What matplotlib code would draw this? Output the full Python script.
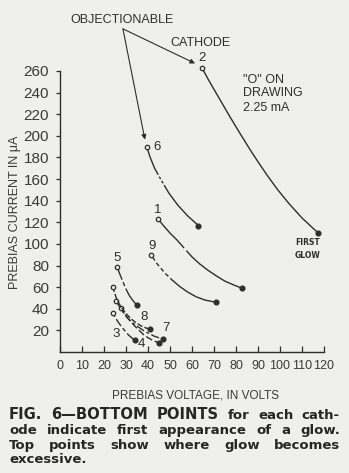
import matplotlib
matplotlib.use("Agg")
import matplotlib.pyplot as plt

# glow curves per cathode: (voltage, current) from the excessive point down to first glow
cathodes = ["1", "2", "3", "4", "5", "6", "7", "8", "9"]
volts = {
    "2": [64.5, 68, 71, 74, 77, 81, 86, 90, 94, 99, 104, 110, 117.4],
    "6": [39.4, 41, 43, 46, 49.5, 53.5, 58, 62.9],
    "1": [44.6, 47, 50, 53, 56.5, 60, 63.5, 67, 71, 75, 79, 82.7],
    "9": [41.4, 44, 47.7, 51, 54.5, 58, 62, 66, 71],
    "5": [26, 27, 28, 29.2, 30.3, 31.6, 33, 34.8],
    "8": [24, 24.7, 25.5, 26.5, 28, 29.5, 31.2, 33, 35, 37, 39, 41],
    "7": [25.5, 26.7, 28, 29.5, 31, 33, 35, 37.5, 40, 43, 46.7],
    "4": [27.5, 28.7, 30, 32, 34, 36, 38, 40, 41.5, 43, 45],
    "3": [24, 25, 26, 27.2, 28.5, 29.8, 31, 32.5, 34],
}
amps = {
    "2": [263, 250, 239.5, 229, 218.5, 205, 188.5, 176, 164, 150, 137.5, 124, 110],
    "6": [190, 180, 170, 159, 147, 136, 126, 117],
    "1": [123, 117, 110, 104, 96, 88, 81.5, 76, 70.5, 65.5, 62, 59],
    "9": [90, 82, 73, 66.5, 60.5, 55.5, 51, 48, 46],
    "5": [79, 73, 68, 62, 57, 52, 48, 43.5],
    "8": [60.5, 55.5, 50.5, 46, 41, 37, 33, 29.5, 26.5, 24, 22.3, 21],
    "7": [47.5, 43, 39, 35, 31, 27, 24, 20.5, 17.5, 14.5, 12],
    "4": [41, 37, 33, 28.5, 24, 20, 16, 13.2, 11.5, 10, 8.6],
    "3": [36, 32.5, 29, 25.5, 22, 19, 16, 13.3, 11],
}
# where each cathode number is written
label_xy = {
    "6": (42.5, 190), "1": (44.2, 131), "9": (41.8, 98), "5": (26, 87),
    "8": (38, 32.5), "7": (48, 22), "3": (25.5, 16.5), "4": (37, 7.5),
    "2": (64.5, 272),
}
# broken-line patterns (on/off pairs, in points)
dash = {
    "2": "-",
    "6": (0, (22, 1.5, 2, 1.5, 2, 1.5, 200, 1)),
    "1": (0, (28, 2.5, 200, 1)),
    "9": (0, (5, 2, 3, 2, 3, 2, 3, 2, 200, 1)),
    "5": (0, (10, 2, 3, 2, 200, 1)),
    "8": (0, (4, 1.5)),
    "7": (0, (6, 2, 2, 2)),
    "4": (0, (5, 2)),
    "3": (0, (3, 2, 6, 2)),
}

xticks = list(range(0, 121, 10))
yticks = list(range(20, 261, 20))

ink = "#2e2e2e"
paper = "#efefed"

fig = plt.figure(figsize=(3.49, 4.73), dpi=100, facecolor=paper)
ax = fig.add_axes([60 / 349, 121 / 473, 264 / 349, 281 / 473])
ax.set_facecolor(paper)
ax.set_xlim(0, 120)
ax.set_ylim(0, 260)

for c in cathodes:
    ax.plot(volts[c], amps[c], color=ink, lw=1.0, linestyle=dash[c], clip_on=False)
    ax.plot(volts[c][0], amps[c][0], "o", ms=3.2, mfc=paper, mec=ink, mew=0.9, clip_on=False)
    ax.plot(volts[c][-1], amps[c][-1], "o", ms=3.4, color=ink, clip_on=False)
    lx, ly = label_xy[c]
    ax.text(lx, ly, c, fontsize=9.5, color=ink, family="Liberation Sans",
            ha="left" if c == "6" else "center", va="center")

for s in ["top", "right"]:
    ax.spines[s].set_visible(False)
for s in ["left", "bottom"]:
    ax.spines[s].set_color(ink)
    ax.spines[s].set_linewidth(1.0)

ax.set_xticks(xticks)
ax.set_yticks(yticks)
ax.tick_params(axis="y", direction="out", length=3, width=0.9, color=ink,
               labelsize=11, labelcolor="#3a3a3a", pad=5)
ax.tick_params(axis="x", direction="in", length=4, width=0.9, color=ink,
               labelsize=9, labelcolor="#3a3a3a", pad=6)
for t in ax.get_xticklabels() + ax.get_yticklabels():
    t.set_family("Liberation Sans")

# pointer lines from the OBJECTIONABLE note
kw = dict(fontsize=9, color=ink, family="Liberation Sans")
ax.text(28.2, 307, "OBJECTIONABLE", ha="center", va="center", clip_on=False, **kw)
arrow = dict(arrowstyle="-|>", color=ink, lw=0.8, mutation_scale=7, shrinkA=0, shrinkB=0)
ax.annotate("", xy=(38.6, 196.5), xytext=(28.6, 299), arrowprops=arrow, annotation_clip=False)
ax.annotate("", xy=(61.4, 267), xytext=(28.6, 299), arrowprops=arrow, annotation_clip=False)
ax.text(64, 286, "CATHODE", ha="center", va="center", clip_on=False, **kw)
ax.text(83.2, 252, '"O" ON', ha="left", va="center", **kw)
ax.text(83.2, 240, "DRAWING", ha="left", va="center", **kw)
ax.text(83.2, 226, "2.25 mA", ha="left", va="center", **kw)
ax.text(112.7, 101, "FIRST", ha="center", va="center", fontsize=5.5, weight="bold",
        color=ink, family="DejaVu Sans")
ax.text(112.7, 89, "GLOW", ha="center", va="center", fontsize=5.5, weight="bold",
        color=ink, family="DejaVu Sans")

fig.text(15 / 349, 1 - 212 / 473, "PREBIAS CURRENT IN μA", rotation=90, ha="center",
         va="center", fontsize=9, color="#3a3a3a", family="Liberation Sans")
fig.text(195 / 349, 1 - 395 / 473, "PREBIAS VOLTAGE, IN VOLTS", ha="center",
         va="center", fontsize=8.5, color="#3a3a3a", family="Liberation Sans")

# justified caption, word by word
caption = [
    [("FIG.", 1), ("6—BOTTOM", 1), ("POINTS", 1), ("for", 0), ("each", 0), ("cath-", 0)],
    [("ode", 0), ("indicate", 0), ("first", 0), ("appearance", 0), ("of", 0), ("a", 0), ("glow.", 0)],
    [("Top", 0), ("points", 0), ("show", 0), ("where", 0), ("glow", 0), ("becomes", 0)],
    [("excessive.", 0)],
]
baselines = [419, 434, 449, 463]
left, right = 9, 340
renderer = fig.canvas.get_renderer()
for words, base in zip(caption, baselines):
    items = []
    for w, heavy in words:
        t = fig.text(0, 1 - base / 473, w, va="baseline", ha="left", color="#262626",
                     fontsize=10.6 if heavy else 9.5, weight="bold", family="DejaVu Sans")
        items.append((t, t.get_window_extent(renderer).width))
    total = sum(wd for _, wd in items)
    gap = (right - left - total) / (len(items) - 1) if len(items) > 1 else 0
    x = left
    for t, wd in items:
        t.set_x(x / 349)
        x += wd + gap

fig.savefig("out.png", dpi=100, facecolor=paper)
